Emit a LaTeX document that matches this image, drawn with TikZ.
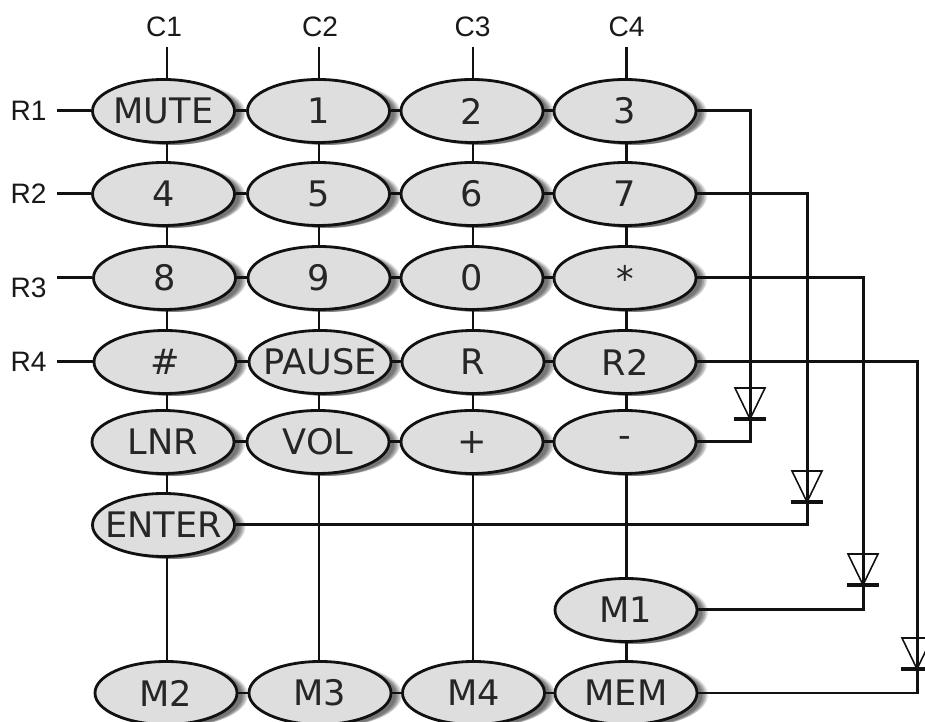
\documentclass[tikz,border=0pt]{standalone}
\usepackage{fontspec}
\setmainfont{DejaVu Sans}
\newfontfamily\pinfont{Liberation Sans}
\usetikzlibrary{shapes.geometric}
\definecolor{keygray}{HTML}{DEDEDE}
\definecolor{wirecolor}{HTML}{111111}
\begin{document}
\begin{tikzpicture}[
        shadowlayer/.style args={#1/#2/#3}{preaction={draw=none, fill=black, fill opacity=#3, transform canvas={shift={(#1,#2)}}}},
        key/.style={ellipse, draw=wirecolor, line width=1.6pt, fill=keygray, inner sep=0pt, minimum width=2.84cm, minimum height=1.26cm, font=\fontsize{20}{20}\selectfont, text=black!85,
            shadowlayer=0.22cm/-0.04cm/0.12, shadowlayer=0.19cm/-0.05cm/0.14, shadowlayer=0.16cm/-0.05cm/0.15,
            shadowlayer=0.13cm/-0.05cm/0.15, shadowlayer=0.10cm/-0.05cm/0.15},
        pin/.style={inner sep=0.2cm, font=\pinfont\fontsize{16}{16}\selectfont, text=black!90},
        wire/.style={draw=wirecolor, line width=1.7pt},
        diodebody/.style={draw=wirecolor, line width=0.9pt},
        diodebar/.style={draw=wirecolor, line width=2pt}
    ]
        \useasboundingbox (0,0) rectangle (18.5,14.44);

        % Column and row pins
        \node[pin] (c1) at (3.28,13.9) {C1};
        \node[pin] (c2) at (6.4,13.9) {C2};
        \node[pin] (c3) at (9.45,13.9) {C3};
        \node[pin] (c4) at (12.53,13.9) {C4};
        \node[pin] (r1) at (0.57,12.22) {R1};
        \node[pin] (r2) at (0.57,10.56) {R2};
        \node[pin] (r3) at (0.57,8.68) {R3};
        \node[pin] (r4) at (0.57,7.2) {R4};

        % Keys, row by row
        \node[key] (mute) at (3.27,12.22) {MUTE};
        \node[key] (one) at (6.37,12.22) {1};
        \node[key] (two) at (9.44,12.22) {2};
        \node[key] (three) at (12.5,12.22) {3};

        \node[key] (four) at (3.27,10.56) {4};
        \node[key] (five) at (6.37,10.56) {5};
        \node[key] (six) at (9.44,10.56) {6};
        \node[key] (seven) at (12.5,10.56) {7};

        \node[key] (eight) at (3.29,8.88) {8};
        \node[key] (nine) at (6.38,8.88) {9};
        \node[key] (zero) at (9.44,8.88) {0};
        \node[key] (star) at (12.5,8.88) {*};

        \node[key] (hash) at (3.3,7.2) {\#};
        \node[key] (pause) at (6.4,7.2) {\makebox[0pt]{PAUSE}};
        \node[key] (redial) at (9.46,7.2) {R};
        \node[key] (rtwo) at (12.5,7.2) {R2};

        \node[key] (lnr) at (3.26,5.6) {LNR};
        \node[key] (vol) at (6.36,5.6) {VOL};
        \node[key] (plus) at (9.44,5.6) {+};
        \node[key] (minus) at (12.5,5.6) {-};

        \node[key] (enter) at (3.27,3.94) {\makebox[0pt]{ENTER}};
        \node[key] (mone) at (12.52,2.24) {M1};

        \node[key] (mtwo) at (3.32,0.58) {M2};
        \node[key] (mthree) at (6.4,0.58) {M3};
        \node[key] (mfour) at (9.47,0.58) {M4};
        \node[key] (mem) at (12.52,0.58) {MEM};

        % Diodes, named by their bars
        \foreach \n/\x/\y in {one/15.0/6.06, two/16.14/4.4, three/17.26/2.74, four/18.34/1.06} {
            \coordinate (diode\n) at (\x,\y);
            \draw[diodebody] (diode\n) -- ++(-0.3,0.62) -- ++(0.6,0) -- cycle;
            \draw[diodebar] ([xshift=-0.32cm]diode\n) -- ([xshift=0.32cm]diode\n);
        }

        % Column wires, one stem per column
        \coordinate (stemone) at (3.34,0);
        \coordinate (stemtwo) at (6.38,0);
        \coordinate (stemthree) at (9.46,0);
        \coordinate (stemfour) at (12.52,0);
        \foreach \a/\b/\s in {mute/four/stemone, four/eight/stemone, eight/hash/stemone, hash/lnr/stemone, lnr/enter/stemone, enter/mtwo/stemone,
                              one/five/stemtwo, five/nine/stemtwo, nine/pause/stemtwo, pause/vol/stemtwo, vol/mthree/stemtwo,
                              two/six/stemthree, six/zero/stemthree, zero/redial/stemthree, redial/plus/stemthree, plus/mfour/stemthree,
                              three/seven/stemfour, seven/star/stemfour, star/rtwo/stemfour, rtwo/minus/stemfour, minus/mone/stemfour, mone/mem/stemfour}
            \draw[wire] (\a.south -| \s) -- (\b.north -| \s);
        \draw[wire] (c1.south -| stemone) -- (mute.north -| stemone);
        \draw[wire] (c2.south -| stemtwo) -- (one.north -| stemtwo);
        \draw[wire] (c3.south -| stemthree) -- (two.north -| stemthree);
        \draw[wire] (c4.south -| stemfour) -- (three.north -| stemfour);

        % Row wires
        \foreach \a/\b in {r1/mute, mute/one, one/two, two/three,
                           r2/four, four/five, five/six, six/seven,
                           eight/nine, nine/zero, zero/star,
                           r4/hash, hash/pause, pause/redial, redial/rtwo,
                           lnr/vol, vol/plus, plus/minus,
                           mtwo/mthree, mthree/mfour, mfour/mem}
            \draw[wire] (\a) -- (\b);
        \draw[wire] (r3.east |- eight) -- (eight);

        % Wires through the diodes
        \draw[wire] (three) -| (diodeone);
        \draw[wire] (minus) -| (diodeone);
        \draw[wire] (seven) -| (diodetwo);
        \draw[wire] (enter) -| (diodetwo);
        \draw[wire] (star) -| (diodethree);
        \draw[wire] (mone) -| (diodethree);
        \draw[wire] (rtwo) -| (diodefour);
        \draw[wire] (mem) -| (diodefour);
    \end{tikzpicture}
\end{document}
